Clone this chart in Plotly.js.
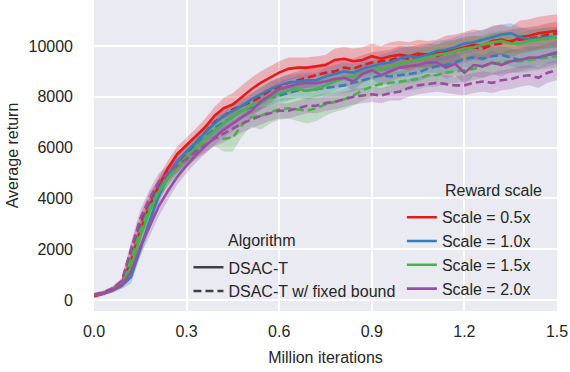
<!DOCTYPE html>
<html>
<head>
<meta charset="utf-8">
<script src="https://cdn.plot.ly/plotly-3.0.1.min.js"></script>
<style>
  body { margin: 0; background: #fff; }
  #plot1 { width: 570px; height: 372px; }
</style>
</head>
<body>
<div id="plot1"></div>
<script>
// iterations (million), one sample every 0.03
let iters = [0.00, 0.03, 0.06, 0.09, 0.12, 0.15, 0.18, 0.21, 0.24, 0.27,
             0.30, 0.33, 0.36, 0.39, 0.42, 0.45, 0.48, 0.51, 0.54, 0.57,
             0.60, 0.63, 0.66, 0.69, 0.72, 0.75, 0.78, 0.81, 0.84, 0.87,
             0.90, 0.93, 0.96, 0.99, 1.02, 1.05, 1.08, 1.11, 1.14, 1.17,
             1.20, 1.23, 1.26, 1.29, 1.32, 1.35, 1.38, 1.41, 1.44, 1.47, 1.50];

let scaleNames = ["Scale = 0.5x", "Scale = 1.0x", "Scale = 1.5x", "Scale = 2.0x"];
let scaleColors = ["#e41a1c", "#377eb8", "#4daf4a", "#984ea3"];
let algoNames = ["DSAC-T", "DSAC-T w/ fixed bound"];

// DSAC-T (solid)
let dsac05 = [150, 250, 400, 650, 1500, 2700, 3700, 4500, 5200, 5750,
              6100, 6450, 6800, 7250, 7550, 7700, 8000, 8300, 8550, 8750,
              8950, 9100, 9150, 9150, 9200, 9250, 9450, 9500, 9400, 9450,
              9600, 9500, 9600, 9650, 9600, 9700, 9650, 9700, 9800, 9850,
              9950, 10050, 10000, 10200, 10250, 10150, 10350, 10400, 10500, 10550, 10600];
let dsac10 = [200, 260, 380, 560, 900, 2000, 3100, 4100, 4900, 5450,
              5850, 6200, 6600, 6950, 7250, 7450, 7650, 7900, 8100, 8300,
              8450, 8550, 8600, 8650, 8650, 8800, 8900, 9000, 8950, 9100,
              9200, 9300, 9350, 9500, 9600, 9550, 9650, 9800, 9850, 9950,
              10100, 10150, 10250, 10350, 10450, 10500, 10350, 10250, 10300, 10350, 10350];
let dsac15 = [200, 270, 400, 620, 1300, 2500, 3500, 4250, 4800, 5250,
              5650, 6000, 6350, 6650, 6950, 7200, 7450, 7650, 7800, 7950,
              8150, 8250, 8300, 8250, 8300, 8450, 8600, 8750, 8800, 8900,
              9050, 9100, 9200, 9300, 9400, 9450, 9550, 9650, 9700, 9800,
              9900, 9950, 10050, 10150, 10200, 10100, 10100, 10200, 10250, 10300, 10350];
let dsac20 = [200, 270, 380, 580, 1100, 2100, 2900, 3700, 4300, 4850,
              5300, 5700, 6050, 6400, 6700, 6950, 7200, 7450, 7800, 8050,
              8300, 8400, 8500, 8550, 8550, 8600, 8700, 8750, 8600, 8900,
              9050, 8850, 9000, 9150, 9200, 9250, 9350, 9350, 9150, 9300,
              8950, 9250, 9200, 9350, 9250, 9400, 9450, 9550, 9550, 9650, 9750];

// DSAC-T w/ fixed bound (dashed)
let fixed05 = [180, 270, 430, 700, 1900, 3000, 3900, 4500, 5000, 5400,
               5800, 6200, 6600, 7000, 7250, 7500, 7650, 7800, 8000, 8250,
               8400, 8550, 8650, 8750, 8850, 8950, 9000, 9150, 9100, 9250,
               9350, 9400, 9450, 9550, 9500, 9600, 9650, 9600, 9750, 9800,
               9900, 9950, 9900, 10050, 10100, 10200, 10250, 10300, 10350, 10450, 10500];
let fixed10 = [200, 280, 420, 650, 1600, 2800, 3700, 4400, 4900, 5300,
               5650, 6050, 6400, 6750, 7000, 7200, 7450, 7600, 7800, 7950,
               8050, 8150, 8250, 8250, 8300, 8350, 8400, 8450, 8550, 8650,
               8750, 8850, 8800, 8850, 8900, 8950, 9100, 9200, 9250, 9350,
               9500, 9550, 9500, 9600, 9650, 9550, 9450, 9500, 9550, 9650, 9700];
let fixed15 = [200, 270, 420, 660, 1600, 2700, 3600, 4300, 4800, 5200,
               5500, 5850, 6150, 6400, 6350, 6400, 6900, 7200, 7250, 7400,
               7500, 7550, 7500, 7450, 7550, 7700, 7800, 7900, 8050, 8250,
               8400, 8500, 8550, 8600, 8650, 8700, 8850, 8850, 8950, 9000,
               9050, 9100, 9200, 9300, 9350, 9400, 9400, 9450, 9500, 9550, 9600];
let fixed20 = [220, 300, 450, 750, 2000, 3200, 4000, 4650, 5000, 5300,
               5550, 5850, 6100, 6350, 6550, 6750, 6950, 7100, 7250, 7350,
               7450, 7450, 7550, 7650, 7650, 7750, 7800, 7900, 8000, 8050,
               8100, 8050, 8150, 8200, 8350, 8450, 8500, 8550, 8500, 8450,
               8450, 8550, 8600, 8550, 8650, 8700, 8800, 8850, 8750, 8950, 9050];

// half width of the shaded band
let sdDsac05 = [60, 80, 100, 150, 300, 350, 350, 350, 300, 300,
                300, 300, 350, 350, 400, 450, 450, 450, 450, 450,
                450, 450, 400, 400, 400, 400, 450, 450, 500, 500,
                500, 500, 550, 550, 550, 550, 550, 550, 600, 600,
                600, 600, 600, 600, 600, 600, 650, 650, 650, 650, 650];
let sdDsac10 = [50, 60, 80, 120, 250, 300, 300, 300, 250, 250,
                250, 250, 250, 250, 250, 250, 250, 250, 300, 300,
                300, 300, 300, 300, 300, 350, 350, 350, 350, 350,
                350, 350, 400, 400, 400, 400, 400, 400, 400, 400,
                400, 400, 400, 400, 400, 400, 400, 400, 400, 400, 400];
let sdDsac15 = [50, 60, 80, 120, 250, 300, 300, 300, 250, 250,
                250, 250, 300, 300, 300, 300, 300, 300, 300, 300,
                300, 350, 350, 350, 350, 350, 350, 350, 350, 350,
                350, 350, 350, 400, 400, 400, 400, 400, 400, 400,
                400, 400, 400, 400, 400, 400, 400, 400, 400, 400, 400];
let sdDsac20 = [50, 60, 80, 120, 250, 350, 400, 400, 350, 300,
                300, 300, 300, 300, 300, 300, 300, 300, 300, 300,
                300, 300, 300, 300, 300, 300, 300, 300, 350, 350,
                350, 400, 400, 400, 400, 400, 400, 400, 450, 450,
                450, 450, 450, 450, 450, 450, 450, 450, 450, 450, 450];
let sdFixed05 = [50, 70, 90, 130, 300, 350, 350, 300, 300, 300,
                 300, 300, 300, 300, 300, 300, 300, 350, 350, 350,
                 350, 350, 350, 400, 400, 400, 400, 400, 400, 400,
                 400, 400, 400, 450, 450, 450, 450, 450, 450, 450,
                 450, 450, 450, 450, 450, 450, 450, 450, 450, 450, 450];
let sdFixed10 = [50, 60, 80, 120, 250, 300, 300, 300, 250, 250,
                 250, 250, 250, 250, 250, 250, 300, 300, 300, 300,
                 300, 300, 300, 300, 300, 300, 300, 300, 350, 350,
                 350, 350, 350, 350, 350, 350, 350, 350, 350, 350,
                 350, 350, 350, 350, 350, 350, 350, 350, 350, 350, 350];
let sdFixed15 = [50, 60, 80, 120, 250, 300, 300, 300, 300, 300,
                 300, 300, 300, 350, 500, 550, 450, 350, 550, 450,
                 400, 400, 450, 500, 500, 450, 400, 400, 400, 400,
                 400, 400, 400, 400, 400, 400, 450, 450, 450, 450,
                 450, 450, 450, 450, 450, 450, 450, 450, 450, 450, 450];
let sdFixed20 = [50, 70, 90, 130, 300, 350, 350, 350, 300, 300,
                 300, 300, 300, 300, 350, 350, 350, 350, 350, 300,
                 300, 300, 300, 300, 300, 300, 300, 300, 300, 300,
                 300, 300, 300, 350, 350, 350, 350, 350, 350, 350,
                 400, 400, 400, 400, 400, 400, 400, 400, 400, 400, 400];

let solidSeries = [dsac05, dsac10, dsac15, dsac20];
let dashedSeries = [fixed05, fixed10, fixed15, fixed20];
let solidSd = [sdDsac05, sdDsac10, sdDsac15, sdDsac20];
let dashedSd = [sdFixed05, sdFixed10, sdFixed15, sdFixed20];

function fadeColor(hex, a) {
    let r = parseInt(hex.slice(1, 3), 16);
    let g = parseInt(hex.slice(3, 5), 16);
    let b = parseInt(hex.slice(5, 7), 16);
    return "rgba(" + r + "," + g + "," + b + "," + a + ")";
}

// shaded bands first
var data = [];
function addBand(mean, sd, color) {
    data.push({
        x: iters, y: mean.map((v, i) => v - sd[i]),
        mode: "lines", line: {width: 0, color: color},
        showlegend: false, hoverinfo: "skip"
    });
    data.push({
        x: iters, y: mean.map((v, i) => v + sd[i]),
        mode: "lines", line: {width: 0, color: color},
        fill: "tonexty", fillcolor: fadeColor(color, 0.27),
        showlegend: false, hoverinfo: "skip"
    });
}
for (let k = 0; k < 4; k++) {
    addBand(solidSeries[k], solidSd[k], scaleColors[k]);
    addBand(dashedSeries[k], dashedSd[k], scaleColors[k]);
}

// the mean lines
for (let k = 0; k < 4; k++) {
    data.push({
        x: iters, y: solidSeries[k], mode: "lines",
        line: {color: scaleColors[k], width: 2.6},
        showlegend: false
    });
    data.push({
        x: iters, y: dashedSeries[k], mode: "lines",
        line: {color: scaleColors[k], width: 2.6, dash: "8px,4px"},
        showlegend: false
    });
}

// legend entries (no data)
data.push({x: [null], y: [null], mode: "lines", name: algoNames[0],
           line: {color: "#404040", width: 2.6}, legend: "legend"});
data.push({x: [null], y: [null], mode: "lines", name: algoNames[1],
           line: {color: "#404040", width: 2.6, dash: "8px,4px"}, legend: "legend"});
for (let k = 0; k < 4; k++) {
    data.push({x: [null], y: [null], mode: "lines", name: scaleNames[k],
               line: {color: scaleColors[k], width: 2.6}, legend: "legend2"});
}

var textFont = {family: "Liberation Sans, Arial, sans-serif", size: 16, color: "#262626"};

var layout = {
    width: 570, height: 372,
    margin: {l: 94, r: 13, t: 0, b: 61},
    paper_bgcolor: "#ffffff",
    plot_bgcolor: "#eaeaf2",
    font: textFont,
    showlegend: true,
    xaxis: {
        range: [0, 1.5], tickvals: [0, 0.3, 0.6, 0.9, 1.2, 1.5],
        tickformat: ".1f", showline: false, zeroline: false,
        gridcolor: "#ffffff", gridwidth: 1.6, ticks: "",
        ticklabelstandoff: 9,
        title: {text: "Million iterations", font: textFont, standoff: 12}
    },
    yaxis: {
        range: [-433, 11811], tickvals: [0, 2000, 4000, 6000, 8000, 10000],
        tickformat: "d", showline: false, zeroline: false,
        gridcolor: "#ffffff", gridwidth: 1.6, ticks: "",
        ticklabelstandoff: 20,
        title: {text: "Average return", font: textFont, standoff: 5}
    },
    legend: {
        x: 0.204, y: 0.195, xanchor: "left", yanchor: "top",
        traceorder: "normal",
        bgcolor: "rgba(0,0,0,0)", font: textFont, tracegroupgap: 0
    },
    legend2: {
        x: 0.665, y: 0.356, xanchor: "left", yanchor: "top",
        traceorder: "normal",
        bgcolor: "rgba(0,0,0,0)", font: textFont, tracegroupgap: 0
    },
    annotations: [
        {text: "Algorithm", xref: "paper", yref: "paper", x: 0.286, y: 0.226,
         xanchor: "left", yanchor: "middle", showarrow: false, font: textFont},
        {text: "Reward scale", xref: "paper", yref: "paper", x: 0.754, y: 0.386,
         xanchor: "left", yanchor: "middle", showarrow: false, font: textFont}
    ]
};

Plotly.newPlot('plot1', data, layout, {displayModeBar: false});
</script>
</body>
</html>
